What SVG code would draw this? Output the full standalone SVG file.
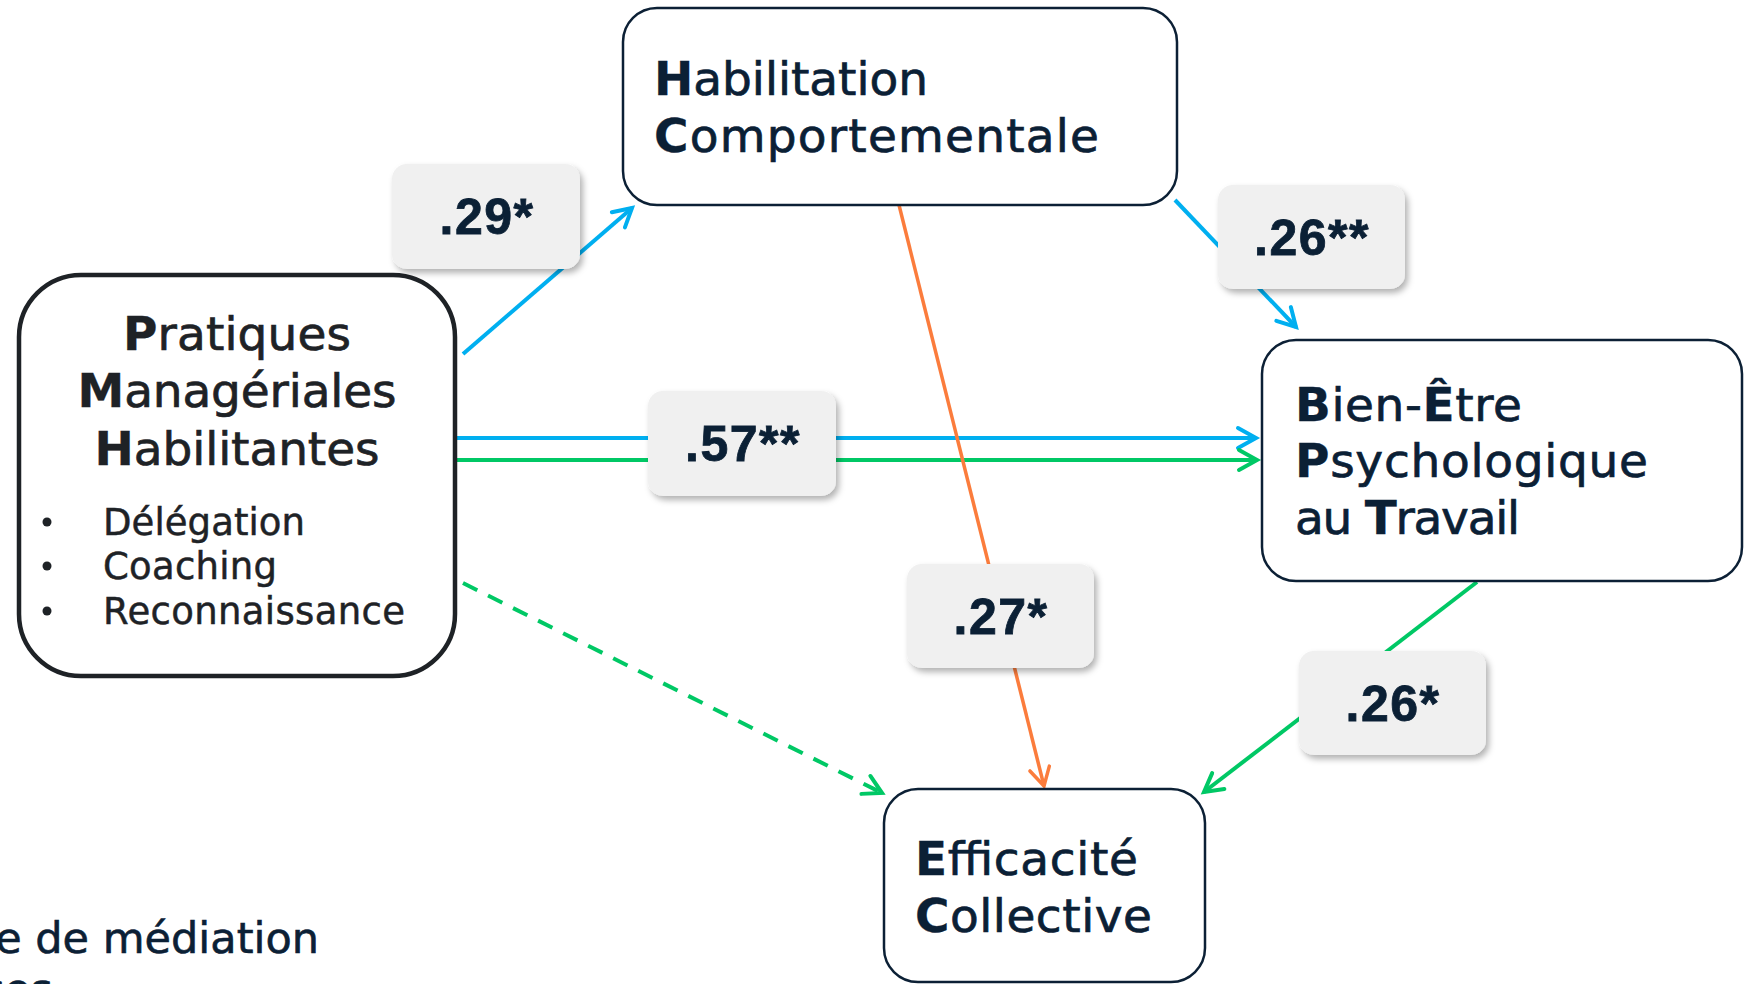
<svg xmlns="http://www.w3.org/2000/svg" width="1744" height="984" viewBox="0 0 1744 984">
<style>
.node{fill:#ffffff;stroke:#0c2035;stroke-width:2.5}
.nt{font-family:"DejaVu Sans","Liberation Sans",sans-serif;font-size:47px;fill:#0b2035;stroke:#0b2035;stroke-width:0.7}
.lt{fill:#1e2226;stroke:#1e2226}
.bt{font-family:"DejaVu Sans","Liberation Sans",sans-serif;font-size:37px;fill:#1e2226;stroke:#1e2226;stroke-width:0.5}
.b{font-weight:700;stroke-width:0.3}
.lab{fill:#f0f0f0;filter:url(#sh)}
.lbt{font-family:"Liberation Sans",Arial,sans-serif;font-size:50px;font-weight:700;fill:#0b2035;stroke:#0b2035;stroke-width:0.8;text-anchor:middle;letter-spacing:1.5px}
.blue{stroke:#00aff0;stroke-width:4;fill:none}
.green{stroke:#00c865;stroke-width:4;fill:none}
.orange{stroke:#fb7c3c;stroke-width:3.5;fill:none}
.foot{font-family:"DejaVu Sans","Liberation Sans",sans-serif;font-size:43px;fill:#0b2035;stroke:#0b2035;stroke-width:0.6}
</style>
<defs>
<filter id="sh" x="-20%" y="-20%" width="150%" height="150%">
<feDropShadow dx="3" dy="4" stdDeviation="3" flood-color="#000" flood-opacity="0.3"/>
</filter>
<marker id="ab" markerUnits="userSpaceOnUse" markerWidth="30" markerHeight="30" viewBox="-22 -15 26 30" refX="0" refY="0" orient="auto">
<path d="M-18,-10 L0,0 L-18,10" fill="none" stroke="#00aff0" stroke-width="4" stroke-linecap="round" stroke-linejoin="miter"/>
</marker>
<marker id="ag" markerUnits="userSpaceOnUse" markerWidth="30" markerHeight="30" viewBox="-22 -15 26 30" refX="0" refY="0" orient="auto">
<path d="M-18,-10 L0,0 L-18,10" fill="none" stroke="#00c865" stroke-width="4" stroke-linecap="round" stroke-linejoin="miter"/>
</marker>
<marker id="ao" markerUnits="userSpaceOnUse" markerWidth="30" markerHeight="30" viewBox="-22 -15 26 30" refX="0" refY="0" orient="auto">
<path d="M-18,-10 L0,0 L-18,10" fill="none" stroke="#fb7c3c" stroke-width="3.5" stroke-linecap="round" stroke-linejoin="miter"/>
</marker>
</defs>
<rect width="1744" height="984" fill="#ffffff"/>

<g id="connectors">
<line class="blue" x1="463" y1="354" x2="632" y2="208" marker-end="url(#ab)"/>
<line class="blue" x1="1175" y1="200" x2="1296" y2="327" marker-end="url(#ab)"/>
<line class="blue" x1="455" y1="438" x2="1256" y2="438" marker-end="url(#ab)"/>
<line class="green" x1="455" y1="460" x2="1257" y2="460" marker-end="url(#ag)"/>
<line class="orange" x1="899" y1="205" x2="1044" y2="786" marker-end="url(#ao)"/>
<line class="green" x1="1477" y1="582" x2="1204" y2="792" marker-end="url(#ag)"/>
<line class="green" x1="463" y1="583" x2="882" y2="793" stroke-dasharray="16 12" marker-end="url(#ag)"/>
</g>

<g id="node-pratiques">
<rect x="19" y="275" width="436" height="401" rx="62" ry="62" fill="#ffffff" stroke="#1e2226" stroke-width="4.5"/>
<text class="nt lt" x="237" y="350" text-anchor="middle" textLength="228"><tspan class="b">P</tspan>ratiques</text>
<text class="nt lt" x="237" y="407" text-anchor="middle" textLength="319"><tspan class="b">M</tspan>anagériales</text>
<text class="nt lt" x="237" y="465" text-anchor="middle" textLength="285"><tspan class="b">H</tspan>abilitantes</text>
<circle cx="47" cy="522" r="4.5" fill="#1e2226"/>
<circle cx="47" cy="566" r="4.5" fill="#1e2226"/>
<circle cx="47" cy="611" r="4.5" fill="#1e2226"/>
<text class="bt" x="103" y="535" textLength="202">Délégation</text>
<text class="bt" x="103" y="579" textLength="174">Coaching</text>
<text class="bt" x="103" y="624" textLength="302">Reconnaissance</text>
</g>

<g id="node-habilitation">
<rect class="node" x="623" y="8" width="554" height="197" rx="34" ry="34"/>
<text class="nt" x="654" y="95" textLength="274"><tspan class="b">H</tspan>abilitation</text>
<text class="nt" x="654" y="152" textLength="445"><tspan class="b">C</tspan>omportementale</text>
</g>

<g id="node-bienetre">
<rect class="node" x="1262" y="340" width="480" height="241" rx="34" ry="34"/>
<text class="nt" x="1295" y="421" textLength="227"><tspan class="b">B</tspan>ien-<tspan class="b">Ê</tspan>tre</text>
<text class="nt" x="1295" y="477" textLength="353"><tspan class="b">P</tspan>sychologique</text>
<text class="nt" x="1295" y="534" textLength="225">au <tspan class="b">T</tspan>ravail</text>
</g>

<g id="node-efficacite">
<rect class="node" x="884" y="789" width="321" height="193" rx="34" ry="34"/>
<text class="nt" x="915" y="875" textLength="223"><tspan class="b">E</tspan>fficacité</text>
<text class="nt" x="915" y="932" textLength="237"><tspan class="b">C</tspan>ollective</text>
</g>

<g id="label-029">
<rect class="lab" x="392" y="164" width="188" height="105" rx="15" ry="15"/>
<text class="lbt" x="487" y="234">.29*</text>
</g>
<g id="label-026a">
<rect class="lab" x="1218" y="185" width="187" height="104" rx="15" ry="15"/>
<text class="lbt" x="1312" y="255">.26**</text>
</g>
<g id="label-057">
<rect class="lab" x="648" y="391" width="188" height="105" rx="15" ry="15"/>
<text class="lbt" x="743" y="461">.57**</text>
</g>
<g id="label-027">
<rect class="lab" x="907" y="564" width="187" height="104" rx="15" ry="15"/>
<text class="lbt" x="1001" y="634">.27*</text>
</g>
<g id="label-026b">
<rect class="lab" x="1299" y="651" width="187" height="104" rx="15" ry="15"/>
<text class="lbt" x="1393" y="721">.26*</text>
</g>

<g id="footer">
<text class="foot" x="319" y="953" text-anchor="end">e de médiation</text>
<text class="foot" x="53" y="1004" text-anchor="end">ces</text>
</g>
</svg>
